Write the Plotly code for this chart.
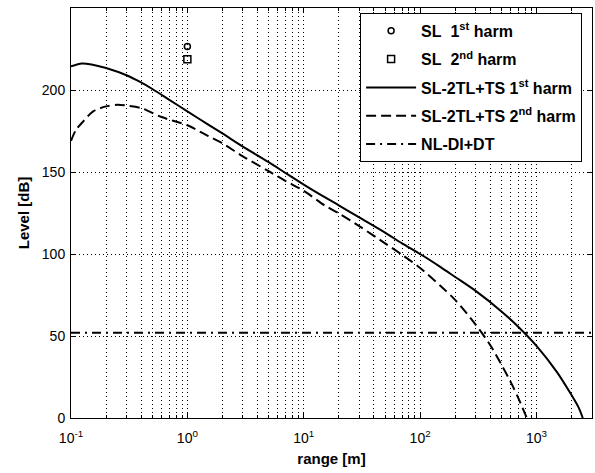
import math
import plotly.graph_objects as go

# ---- data ----
range_1st = [0.1, 0.124, 0.15, 0.2, 0.3, 0.4, 0.5, 0.7, 1, 1.5, 2, 3, 5, 7, 10, 15, 20, 30, 50,
             70, 100, 150, 200, 300, 500, 700, 1000, 1500, 2000, 2300, 2500]
level_1st = [214.4, 216.2, 215.6, 213.4, 209.0, 204.6, 200.6, 194, 187, 179, 173.5, 165.5, 156,
             149.3, 142.3, 134.8, 129.7, 122.3, 113, 106.5, 100, 92, 86, 77.5, 65, 55.5, 44, 28,
             14, 6.5, 0]

range_2nd = [0.1, 0.11, 0.128, 0.155, 0.2, 0.25, 0.3, 0.4, 0.6, 1, 1.5, 2, 3, 5, 7, 10, 15, 20,
             30, 50, 70, 100, 150, 200, 300, 400, 500, 600, 700, 825]
level_2nd = [169, 175.5, 181, 187, 190, 191, 190.5, 189, 183.5, 178.5, 172, 167.5, 159.5, 150.5,
             144.5, 138.5, 129.8, 124.8, 117, 106.5, 99.5, 91.5, 80.5, 72, 57, 44.5, 32.5, 22,
             12, 0]

range_nl = [0.1, 3000]
level_nl = [52, 52]

sl_range = [1]
sl_1st = [226.5]
sl_2nd = [218.7]

x_tick_vals = [0.1, 1, 10, 100, 1000]
x_tick_text = ["10<sup>-1</sup>", "10<sup>0</sup>", "10<sup>1</sup>", "10<sup>2</sup>", "10<sup>3</sup>"]
y_tick_vals = [0, 50, 100, 150, 200, 250]

names = ["SL\u00a0 1<sup>st</sup> harm", "SL\u00a0 2<sup>nd</sup> harm",
         "SL-2TL+TS 1<sup>st</sup> harm", "SL-2TL+TS 2<sup>nd</sup> harm", "NL-DI+DT<sup> </sup>"]

minor_vals = [m * 10 ** e for e in range(-1, 4) for m in range(2, 10) if m * 10 ** e <= 3000]

fig = go.Figure()
fig.add_trace(go.Scatter(x=sl_range, y=sl_1st, mode="markers", name=names[0], legendgroup="a",
                         marker=dict(symbol="circle-open", size=6, color="black", line=dict(width=1.5))))
fig.add_trace(go.Scatter(x=sl_range, y=sl_2nd, mode="markers", name=names[1], legendgroup="b",
                         marker=dict(symbol="square-open", size=7, color="black", line=dict(width=1.5))))
fig.add_trace(go.Scatter(x=range_1st, y=level_1st, mode="lines", name=names[2], legendgroup="c",
                         line=dict(color="black", width=2, shape="spline", smoothing=0.8)))
fig.add_trace(go.Scatter(x=range_2nd, y=level_2nd, mode="lines", name=names[3], legendgroup="d",
                         line=dict(color="black", width=2, dash="10px,5px", shape="spline",
                                   smoothing=0.8)))
fig.add_trace(go.Scatter(x=range_nl, y=level_nl, mode="lines", name=names[4], legendgroup="e",
                         line=dict(color="black", width=2, dash="9px,5px,2px,5px")))

grid_dash = "1px,3px"
axis_common = dict(
    showline=True, linecolor="black", linewidth=1, mirror="ticks",
    ticks="inside", ticklen=5, tickcolor="black",
    showgrid=True, gridcolor="black", gridwidth=1, griddash=grid_dash,
    zeroline=False, automargin=False,
    tickfont=dict(family="Liberation Sans", size=14, color="black"),
)

fig.update_layout(
    width=595, height=473,
    margin=dict(l=71, r=3, t=8, b=55),
    paper_bgcolor="white", plot_bgcolor="white",
    font=dict(family="Liberation Sans", color="black"),
    showlegend=True,
    legend=dict(x=0.981, xanchor="right", y=0.988, yanchor="top",
                bordercolor="black", borderwidth=1, bgcolor="white",
                font=dict(family="Liberation Sans", size=16, color="black", weight="bold"),
                traceorder="grouped", tracegroupgap=4.5, itemwidth=50),
    xaxis=dict(type="log", range=[-1, math.log10(3000)],
               tickmode="array", tickvals=x_tick_vals, ticktext=x_tick_text,
               ticklabelstandoff=7,
               minor=dict(tickmode="array", tickvals=minor_vals, ticks="inside", ticklen=3,
                          tickcolor="black", showgrid=True, gridcolor="black", gridwidth=1,
                          griddash=grid_dash),
               title=dict(text="range [m]", font=dict(size=15, weight="bold"), standoff=8),
               **axis_common),
    yaxis=dict(range=[0, 250], tickmode="array", tickvals=y_tick_vals,
               ticklabelstandoff=2,
               title=dict(text="Level [dB]", font=dict(size=15, weight="bold"), standoff=8),
               **axis_common),
)

fig.write_html("out.html", config={"displayModeBar": False},
               post_script="document.body.style.margin='0';document.body.style.overflow='hidden';")
